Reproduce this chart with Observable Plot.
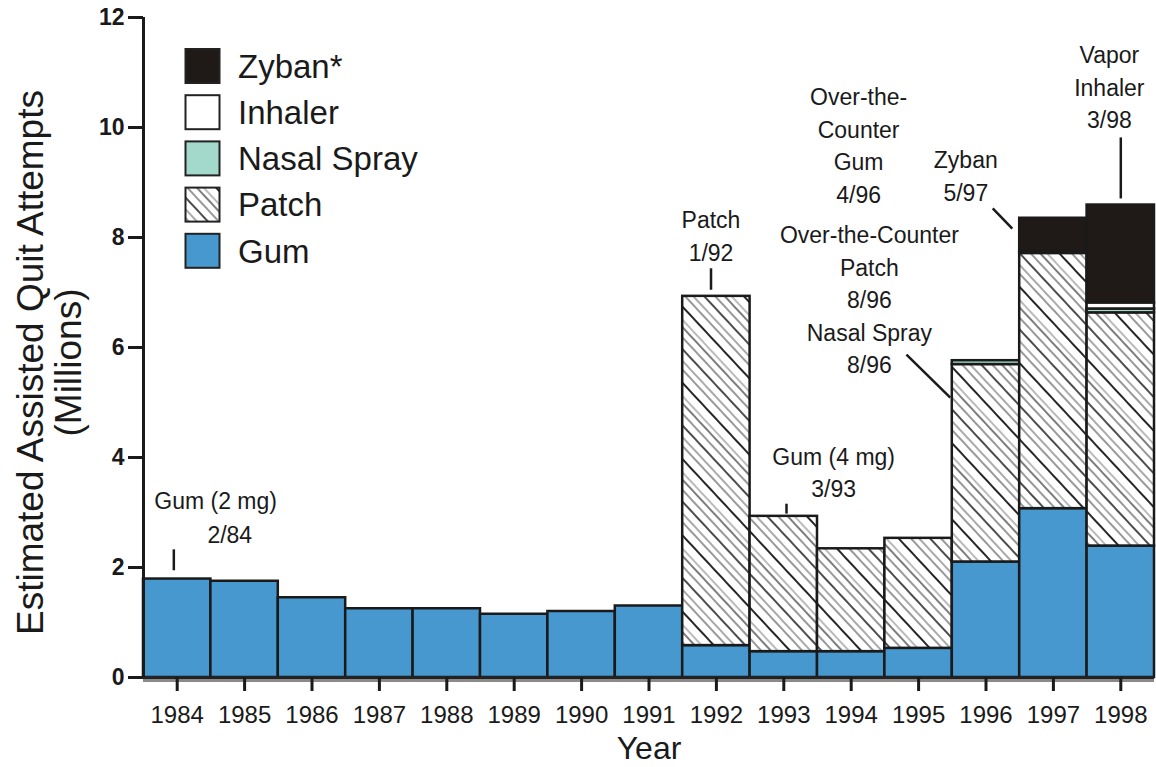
<!DOCTYPE html>
<html><head><meta charset="utf-8">
<script src="https://cdn.jsdelivr.net/npm/d3@7"></script>
<script src="https://cdn.jsdelivr.net/npm/@observablehq/plot@0.6"></script>
<style>
body{margin:0;background:#fff;font-family:"Liberation Sans",Arial,sans-serif}
#wrap{position:relative;width:1156px;height:767px}
</style></head><body><div id="wrap"></div>
<script>
// ---- data ----
const years   = [1984,1985,1986,1987,1988,1989,1990,1991,1992,1993,1994,1995,1996,1997,1998];
const gum     = [1.79,1.75,1.45,1.25,1.25,1.15,1.20,1.30,0.58,0.47,0.47,0.53,2.10,3.07,2.39];
const patch   = [0,0,0,0,0,0,0,0,6.35,2.46,1.87,2.00,3.59,4.64,4.24];
const nasal   = [0,0,0,0,0,0,0,0,0,0,0,0,0.07,0.04,0.07];
const inhaler = [0,0,0,0,0,0,0,0,0,0,0,0,0,0,0.11];
const zyban   = [0,0,0,0,0,0,0,0,0,0,0,0,0,0.60,1.78];
const seriesNames = ["Gum","Patch","Nasal Spray","Inhaler","Zyban*"];
const yTicks = [0,2,4,6,8,10,12];
const noteTexts = ["Gum (2 mg)","2/84","Patch\n1/92","Gum (4 mg)\n3/93","Over-the-\nCounter\nGum\n4/96",
  "Over-the-Counter\nPatch\n8/96","Nasal Spray\n8/96","Zyban\n5/97","Vapor\nInhaler\n3/98"];

// ---- build table ----
const seriesValues = [gum, patch, nasal, inhaler, zyban];
const rows = [];
years.forEach((yr, i) => seriesNames.forEach((s, k) => {
  const v = seriesValues[k][i];
  if (v > 0) rows.push({year: yr, series: s, value: v});
}));

// annotation placement (data units)
const notePos = [[1984.57,3.2],[1984.78,2.58],[1991.92,8.01],[1993.74,3.71],[1994.11,9.65],
  [1994.27,7.44],[1994.27,5.96],[1995.70,9.1],[1997.83,10.71]];
const notes = noteTexts.map((t,i)=>({text:t, x:notePos[i][0], y:notePos[i][1]}));
const pointers = [
  {x1:1983.95,y1:2.33,x2:1983.95,y2:1.95},
  {x1:1991.92,y1:7.44,x2:1991.92,y2:7.05},
  {x1:1993.04,y1:3.16,x2:1993.04,y2:2.98},
  {x1:1994.82,y1:5.87,x2:1995.47,y2:5.09},
  {x1:1996.10,y1:8.53,x2:1996.39,y2:8.16},
  {x1:1998.0,y1:9.82,x2:1998.0,y2:8.71}
];

const colors = ["#4898d0","url(#hatch)","#a3d9cb","#ffffff","#1f1a17"];
const font = "Liberation Sans, Arial, sans-serif";

const plot = Plot.plot({
  width:1156, height:767,
  marginLeft:143, marginRight:2, marginTop:17, marginBottom:90,
  x:{domain:[1983.5,1998.5], axis:null},
  y:{domain:[0,12], axis:null},
  color:{domain:seriesNames, range:colors},
  style:{fontFamily:font, background:"#fff", color:"#1a1a1a"},
  marks:[
    Plot.rectY(rows, {x1:d=>d.year-0.5, x2:d=>d.year+0.5, y:"value", fill:"series", stroke:"#1a1a1a", strokeWidth:2.5}),
    Plot.ruleY([0], {stroke:"#8a8a8a", strokeWidth:3, dy:3}),
    Plot.ruleY([0], {stroke:"#222", strokeWidth:3}),
    Plot.ruleX([1983.5], {y1:0, y2:12, stroke:"#1a1a1a", strokeWidth:3}),
    Plot.axisY({ticks:yTicks, tickSize:15, tickPadding:4, fontSize:23, fontWeight:"bold", strokeWidth:3, label:null, anchor:"left"}),
    Plot.axisX({ticks:years, tickFormat:d=>String(d), tickSize:14, tickPadding:14, fontSize:24, strokeWidth:3, label:null, anchor:"bottom"}),
    Plot.text(["Year"], {frameAnchor:"bottom", dy:71, fontSize:32, lineAnchor:"middle"}),
    Plot.text(["Estimated Assisted Quit Attempts\n(Millions)"], {frameAnchor:"left", dx:-94, dy:15, rotate:-90, fontSize:37, lineHeight:1.05, lineAnchor:"middle", textAnchor:"middle"}),
    Plot.text(notes, {x:"x", y:"y", text:"text", fontSize:23, lineHeight:1.41, lineAnchor:"middle", textAnchor:"middle", fill:"#1a1a1a", dy:-3}),
    Plot.link(pointers, {x1:"x1", y1:"y1", x2:"x2", y2:"y2", stroke:"#1a1a1a", strokeWidth:2.5})
  ]
});

const svg = d3.select(plot);
svg.insert("defs", ":first-child").html(`
<pattern id="hatch" patternUnits="userSpaceOnUse" width="52" height="52" patternTransform="rotate(-43)">
  <rect width="52" height="52" fill="#fff"/>
  <line x1="1" y1="0" x2="1" y2="52" stroke="#000" stroke-width="1.4"/>
  <line x1="9" y1="0" x2="9" y2="52" stroke="#333" stroke-width="1"/>
  <line x1="16" y1="0" x2="16" y2="52" stroke="#111" stroke-width="1.1"/>
  <line x1="21" y1="0" x2="21" y2="52" stroke="#666" stroke-width="0.9"/>
  <line x1="30" y1="0" x2="30" y2="52" stroke="#000" stroke-width="1.7"/>
  <line x1="39" y1="0" x2="39" y2="52" stroke="#333" stroke-width="1"/>
  <line x1="45" y1="0" x2="45" y2="52" stroke="#555" stroke-width="1"/>
</pattern>`);

// legend inside plot area
const legendItems = seriesNames.map((s,i)=>({s, c:colors[i]})).reverse();
const lg = svg.append("g").attr("font-family", font).attr("text-anchor","start");
legendItems.forEach((it, i) => {
  const cy = 66 + i*46.2;
  lg.append("rect").attr("x",185.5).attr("y",cy-17).attr("width",34).attr("height",34)
    .attr("fill", it.c).attr("stroke","#222").attr("stroke-width",2);
  lg.append("text").attr("x",238).attr("y",cy).attr("dy","0.36em").attr("text-anchor","start")
    .attr("font-size",33).attr("fill","#1a1a1a").text(it.s);
});

document.getElementById("wrap").appendChild(plot);
</script></body></html>
